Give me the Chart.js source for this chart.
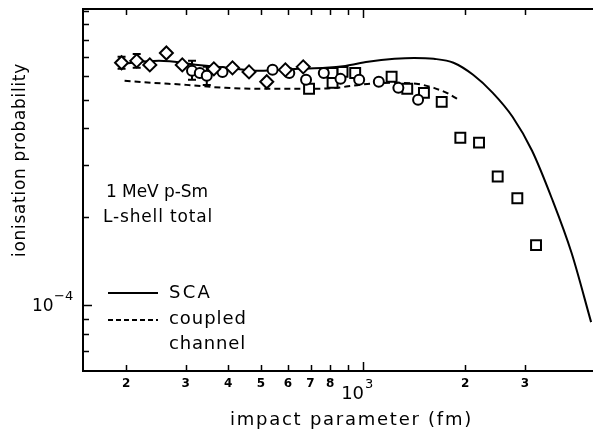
<!DOCTYPE html>
<html>
<head>
<meta charset="utf-8">
<script src="https://cdn.jsdelivr.net/npm/chart.js@4.4.0/dist/chart.umd.min.js"></script>
<style>
  html, body { margin: 0; padding: 0; background: #fff; }
  #wrap { width: 602px; height: 432px; position: relative; }
</style>
</head>
<body>
<div id="wrap"><canvas id="chart"></canvas></div>
<script>
// impact parameter (fm) vs ionisation probability

// measured points - diamonds
const diamondX = [194, 215, 235, 263, 293, 363, 412, 461, 520, 590, 666]
const diamondY = [6.67e-4, 6.77e-4, 6.56e-4, 7.2e-4, 6.56e-4, 6.36e-4, 6.41e-4, 6.21e-4, 5.75e-4, 6.31e-4, 6.46e-4]
const diamondErr = [[6.36e-4, 6.99e-4], [6.41e-4, 7.15e-4], null, null, null, null, null, null, null, null, null]

// measured points - circles
const circleX = [313, 330, 346, 385, 541, 606, 679, 766, 858, 974, 1113, 1271, 1453]
const circleY = [6.26e-4, 6.16e-4, 6.02e-4, 6.21e-4, 6.31e-4, 6.16e-4, 5.84e-4, 6.16e-4, 5.88e-4, 5.84e-4, 5.75e-4, 5.48e-4, 4.99e-4]
const circleErr = [[5.84e-4, 6.77e-4], null, [5.61e-4, 6.46e-4], null, null, null, null, null, null, null, null, null, null]

// measured points - squares
const squareX = [693, 813, 813, 870, 948, 1214, 1350, 1512, 1706, 1936, 2198, 2495, 2851, 3237]
const squareY = [5.44e-4, 6.16e-4, 5.70e-4, 6.21e-4, 6.16e-4, 5.98e-4, 5.44e-4, 5.27e-4, 4.91e-4, 3.71e-4, 3.57e-4, 2.74e-4, 2.31e-4, 1.60e-4]

// SCA calculation
const scaX = [191, 250, 326, 398, 493, 644, 776, 887, 1034, 1238, 1415, 1617, 1848, 2111, 2413, 2759, 3151, 3602, 4117, 4705]
const scaY = [6.61e-4, 6.77e-4, 6.56e-4, 6.41e-4, 6.26e-4, 6.36e-4, 6.41e-4, 6.51e-4, 6.72e-4, 6.88e-4, 6.93e-4, 6.88e-4, 6.67e-4, 6.07e-4, 5.27e-4, 4.37e-4, 3.35e-4, 2.31e-4, 1.51e-4, 8.76e-5]

// coupled channel calculation
const ccX = [198, 241, 301, 393, 520, 666, 830, 929, 1048, 1238, 1434, 1617, 1788, 1936]
const ccY = [5.79e-4, 5.70e-4, 5.61e-4, 5.48e-4, 5.44e-4, 5.44e-4, 5.48e-4, 5.57e-4, 5.66e-4, 5.70e-4, 5.66e-4, 5.48e-4, 5.23e-4, 4.95e-4]

// axes
const xMin = 149.3
const xMax = 4766
const yMin = 5.975e-5
const yMax = 1.016e-3
const xTicks = [200, 300, 400, 500, 600, 700, 800, 900, 1000, 2000, 3000]
const xLabelValues = [200, 300, 400, 500, 600, 700, 800, 2000, 3000]
const xLabelText = ['2', '3', '4', '5', '6', '7', '8', '2', '3']
const yTicks = [7e-5, 8e-5, 9e-5, 1e-4, 2e-4, 3e-4, 4e-4, 5e-4, 6e-4, 7e-4, 8e-4, 9e-4, 1e-3]

const FONT = '"DejaVu Sans", sans-serif'

function pts(xs, ys) {
  return xs.map((x, i) => ({ x: x, y: ys[i] }))
}

function fitText(ctx, str, x, y, size, width) {
  ctx.font = size + 'px ' + FONT
  ctx.letterSpacing = '0px'
  if (width) {
    const w = ctx.measureText(str).width
    ctx.letterSpacing = ((width - w) / str.length) + 'px'
  }
  ctx.fillText(str, x, y)
  ctx.letterSpacing = '0px'
}

const frame = {
  id: 'frame',
  beforeDatasetsDraw(chart) {
    // error bars, drawn under the markers
    const ctx = chart.ctx
    const xs = chart.scales.x
    const ys = chart.scales.y
    ctx.save()
    ctx.strokeStyle = '#000'
    ctx.lineWidth = 2
    const sets = [[diamondX, diamondErr], [circleX, circleErr]]
    sets.forEach(([xv, err]) => {
      err.forEach((e, i) => {
        if (!e) return
        const px = xs.getPixelForValue(xv[i])
        const lo = ys.getPixelForValue(e[0])
        const hi = ys.getPixelForValue(e[1])
        ctx.beginPath()
        ctx.moveTo(px, lo); ctx.lineTo(px, hi)
        ctx.moveTo(px - 4, lo); ctx.lineTo(px + 4, lo)
        ctx.moveTo(px - 4, hi); ctx.lineTo(px + 4, hi)
        ctx.stroke()
      })
    })
    ctx.restore()
  },
  afterDraw(chart) {
    const ctx = chart.ctx
    const a = chart.chartArea
    const xs = chart.scales.x
    const ys = chart.scales.y
    ctx.save()
    ctx.strokeStyle = '#000'
    ctx.fillStyle = '#000'
    ctx.lineWidth = 2

    // frame
    ctx.beginPath()
    ctx.moveTo(a.right, a.top); ctx.lineTo(a.left, a.top); ctx.lineTo(a.left, a.bottom); ctx.lineTo(a.right, a.bottom)
    ctx.stroke()

    // inward ticks
    ctx.lineWidth = 1.5
    ctx.beginPath()
    xTicks.forEach(v => {
      const px = Math.round(xs.getPixelForValue(v)) + 0.5
      const len = v === 1000 ? 9 : 6
      ctx.moveTo(px, a.bottom); ctx.lineTo(px, a.bottom - len)
      ctx.moveTo(px, a.top); ctx.lineTo(px, a.top + len)
    })
    yTicks.forEach(v => {
      const py = Math.round(ys.getPixelForValue(v)) + 0.5
      const len = v === 1e-4 ? 9 : 6
      ctx.moveTo(a.left, py); ctx.lineTo(a.left + len, py)
    })
    ctx.stroke()

    // x tick labels
    ctx.textAlign = 'center'
    ctx.textBaseline = 'middle'
    ctx.font = 'bold 12px ' + FONT
    xLabelValues.forEach((v, i) => {
      ctx.fillText(xLabelText[i], xs.getPixelForValue(v), a.bottom + 13)
    })
    const p3 = xs.getPixelForValue(1000)
    ctx.font = '18px ' + FONT
    ctx.textAlign = 'right'
    ctx.fillText('10', p3 + 1, a.bottom + 23)
    ctx.textAlign = 'left'
    ctx.font = '13px ' + FONT
    ctx.fillText('3', p3 + 2, a.bottom + 14)

    // y tick label
    const p4 = ys.getPixelForValue(1e-4)
    ctx.font = '17px ' + FONT
    ctx.textAlign = 'left'
    ctx.fillText('10', 32, p4 + 1)
    ctx.font = '13px ' + FONT
    ctx.fillText('\u2212' + '4', 54, p4 - 9)

    // axis titles
    ctx.textAlign = 'left'
    fitText(ctx, 'impact parameter (fm)', 230, 420, 18, 243)
    ctx.save()
    ctx.translate(21, 257)
    ctx.rotate(-Math.PI / 2)
    fitText(ctx, 'ionisation probability', 0, 0, 17, 194)
    ctx.restore()

    // annotation
    fitText(ctx, '1 MeV p-Sm', 106, 193, 17, 102)
    fitText(ctx, 'L-shell total', 103, 218, 17, 110)

    // legend
    ctx.lineWidth = 2
    ctx.beginPath()
    ctx.moveTo(108, 293); ctx.lineTo(158, 293)
    ctx.stroke()
    ctx.setLineDash([5, 3])
    ctx.beginPath()
    ctx.moveTo(108, 320); ctx.lineTo(158, 320)
    ctx.stroke()
    ctx.setLineDash([])
    fitText(ctx, 'SCA', 169, 293, 18, 43)
    fitText(ctx, 'coupled', 169, 319, 18, 78)
    fitText(ctx, 'channel', 169, 344, 18, 77)
    ctx.restore()
  }
}

const ctx = document.getElementById('chart').getContext('2d')
new Chart(ctx, {
  type: 'scatter',
  data: {
    datasets: [
      {
        label: 'diamonds',
        data: pts(diamondX, diamondY),
        pointStyle: 'rectRot',
        pointRadius: 6.5,
        borderWidth: 2,
        borderColor: '#000',
        backgroundColor: '#fff'
      },
      {
        label: 'circles',
        data: pts(circleX, circleY),
        pointStyle: 'circle',
        pointRadius: 5,
        borderWidth: 2,
        borderColor: '#000',
        backgroundColor: '#fff'
      },
      {
        label: 'squares',
        data: pts(squareX, squareY),
        pointStyle: 'rect',
        pointRadius: 7,
        borderWidth: 2,
        borderColor: '#000',
        backgroundColor: '#fff'
      },
      {
        label: 'SCA',
        data: pts(scaX, scaY),
        showLine: true,
        pointRadius: 0,
        borderWidth: 2,
        borderColor: '#000',
        cubicInterpolationMode: 'monotone'
      },
      {
        label: 'coupled channel',
        data: pts(ccX, ccY),
        showLine: true,
        pointRadius: 0,
        borderWidth: 2,
        borderColor: '#000',
        borderDash: [6, 4],
        cubicInterpolationMode: 'monotone'
      }
    ]
  },
  options: {
    responsive: true,
    maintainAspectRatio: false,
    animation: false,
    layout: {
      padding: { left: 83, right: 0, top: 8, bottom: 61 }
    },
    plugins: {
      legend: { display: false },
      tooltip: { enabled: false }
    },
    scales: {
      x: { type: 'logarithmic', min: xMin, max: xMax, display: false },
      y: { type: 'logarithmic', min: yMin, max: yMax, display: false }
    }
  },
  plugins: [frame]
})
</script>
</body>
</html>
